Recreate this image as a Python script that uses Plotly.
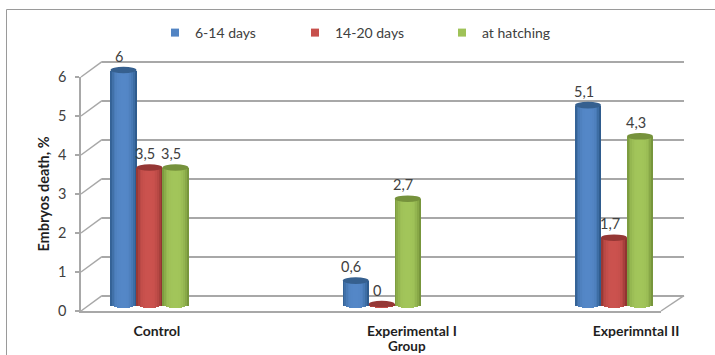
import math
import plotly.graph_objects as go

categories = ["Control", "Experimental I", "Experimntal II"]
series_names = ["6-14 days", "14-20 days", "at hatching"]
days_6_14 = [6, 0.6, 5.1]
days_14_20 = [3.5, 0, 1.7]
at_hatching = [3.5, 2.7, 4.3]
y_ticks = [0, 1, 2, 3, 4, 5, 6]
x_title = "Group"
y_title = "Embryos death, %"

W, H = 715, 355
FONT = "Lato"
TXT = "#404040"
GRID = "#a8a8a8"
series_values = [days_6_14, days_14_20, at_hatching]
base_col = [(84, 135, 199), (203, 82, 78), (162, 197, 90)]
dark_col = [(38, 82, 128), (130, 45, 42), (108, 138, 52)]
cap_col = ["#36608f", "#953735", "#76923c"]

def px(x): return x / W
def py(y): return (H - y) / H
def mix(a, b, t):
    return "rgb(%d,%d,%d)" % tuple(round(a[i] + (b[i] - a[i]) * t) for i in range(3))

UNIT_X = 232.25          # pixels between two groups
UNIT_Y = 39.0            # pixels per value unit
BAR = 26.0 / UNIT_X
CAP = 3.3 / UNIT_Y
N = 15
group_x = [0, 1, 2]
tick_pos = [0.032, 1.13, 2.095]
x_left = (81 - 149.5) / UNIT_X
x_right = (661 - 149.5) / UNIT_X

fig = go.Figure()
shapes, annotations = [], []

# empty traces so that the back wall and front scale subplots exist
fig.add_trace(go.Scatter(x=[None], y=[None], xaxis="x", yaxis="y", showlegend=False, hoverinfo="skip"))
fig.add_trace(go.Scatter(x=[None], y=[None], xaxis="x2", yaxis="y3", showlegend=False, hoverinfo="skip"))

for s, (name, vals) in enumerate(zip(series_names, series_values)):
    off = (s - 1) * BAR
    xs = [g + off for g in group_x]
    for k in range(N):
        u = (k + 0.5) / N * 2 - 1
        e = CAP * math.sqrt(max(0, 1 - u * u))
        t = abs(u) ** 3.2 * (1.0 if u > 0 else 0.85)
        fig.add_trace(go.Bar(
            x=[x + u * BAR / 2 for x in xs],
            y=[v + e for v in vals],
            base=[-e] * len(vals),
            width=BAR / N * 1.25,
            marker=dict(color=mix(base_col[s], dark_col[s], t), line_width=0),
            xaxis="x2", yaxis="y2", showlegend=False, hoverinfo="skip",
        ))
    for x, v in zip(xs, vals):
        shapes.append(dict(type="circle", xref="x2", yref="y2", layer="above",
                           x0=x - BAR / 2, x1=x + BAR / 2, y0=v - CAP, y1=v + CAP,
                           fillcolor=cap_col[s], line_width=0))
        annotations.append(dict(x=x, y=v, xref="x2", yref="y2", xshift=-4.5, yshift=14,
                                text=str(v).replace(".", ","), showarrow=False,
                                font=dict(family=FONT, size=14.5, color=TXT)))
    fig.add_trace(go.Scatter(
        x=[None], y=[None], name=name, mode="markers", xaxis="x2", yaxis="y2",
        marker=dict(symbol="square", size=8, color=mix(base_col[s], dark_col[s], 0.05)),
        legend="legend" if s == 0 else "legend%d" % (s + 1),
    ))

# 3-D box: diagonal edges from the front axis to the back wall
for t in y_ticks:
    y = 311 - t * UNIT_Y
    shapes.append(dict(type="line", xref="paper", yref="paper", layer="below",
                       x0=px(81), y0=py(y), x1=px(102), y1=py(y - 15.3),
                       line=dict(color=GRID, width=1.5)))
shapes.append(dict(type="line", xref="paper", yref="paper", layer="below",
                   x0=px(661), y0=py(311), x1=px(684), y1=py(295.7),
                   line=dict(color=GRID, width=1.5)))
# outer frame
shapes.append(dict(type="line", xref="paper", yref="paper", layer="below", x0=px(6.5), y0=py(9.5), x1=1, y1=py(9.5),
                   line=dict(color="#9a9a9a", width=1)))
shapes.append(dict(type="line", xref="paper", yref="paper", layer="below", x0=px(6.5), y0=py(9.5), x1=px(6.5), y1=0,
                   line=dict(color="#9a9a9a", width=1)))

annotations.append(dict(x=px(407), y=py(346), xref="paper", yref="paper", text="<b>%s</b>" % x_title,
                        xanchor="center", yanchor="middle",
                        showarrow=False, font=dict(family=FONT, size=13.5, color="#1f1f1f")))

legend_common = dict(orientation="v", xanchor="left", yanchor="middle", y=py(33),
                     bgcolor="rgba(0,0,0,0)", borderwidth=0, itemsizing="trace",
                     font=dict(family=FONT, size=14, color=TXT))

fig.update_layout(
    width=W, height=H, autosize=False, margin=dict(l=0, r=0, t=0, b=0, autoexpand=False),
    paper_bgcolor="white", plot_bgcolor="rgba(0,0,0,0)", barmode="overlay",
    bargap=0, shapes=shapes, annotations=annotations, showlegend=True,
    legend=dict(x=px(155), **legend_common),
    legend2=dict(x=px(295), **legend_common),
    legend3=dict(x=px(442), **legend_common),
    # back wall: range runs past 0 and 6 so that the end gridlines are drawn
    xaxis=dict(domain=[px(102), px(684)], range=[0, 1], visible=False, anchor="y"),
    yaxis=dict(domain=[py(295.7 + 0.5 * UNIT_Y), py(61.7 - 0.5 * UNIT_Y)], range=[-0.5, 6.5],
               anchor="x", tickvals=y_ticks,
               showgrid=True, gridcolor=GRID, gridwidth=1.5, zeroline=False,
               showline=False, showticklabels=False, ticks=""),
    # bars (a little in front of the back wall)
    xaxis2=dict(domain=[px(81), px(661)], range=[x_left, x_right], anchor="y3",
                tickvals=tick_pos, ticktext=["<b>%s</b>" % c for c in categories],
                ticks="", showline=True, linecolor=GRID, linewidth=1.5, showgrid=False,
                zeroline=False, ticklabelstandoff=6,
                tickfont=dict(family=FONT, size=14, color="#1f1f1f")),
    yaxis2=dict(domain=[py(304 + 0.5 * UNIT_Y), py(70 - 0.5 * UNIT_Y)], range=[-0.5, 6.5],
                anchor="x2", visible=False),
    # front axis carrying the value scale
    yaxis3=dict(domain=[py(311), py(77)], range=[0, 6], anchor="x2", tickvals=y_ticks,
                ticks="outside", ticklen=4, tickcolor=GRID, tickwidth=1.5,
                showline=True, linecolor=GRID, linewidth=1.5, showgrid=False, zeroline=False,
                ticklabelstandoff=6,
                tickfont=dict(family=FONT, size=14.5, color=TXT),
                title=dict(text="<b>%s</b>" % y_title, standoff=5,
                           font=dict(family=FONT, size=14.5, color="#1f1f1f"))),
)

fig.write_html("out.html", include_plotlyjs=True,
               config={"displayModeBar": False, "responsive": False},
               post_script="document.body.style.margin='0';document.body.style.overflow='hidden';")
